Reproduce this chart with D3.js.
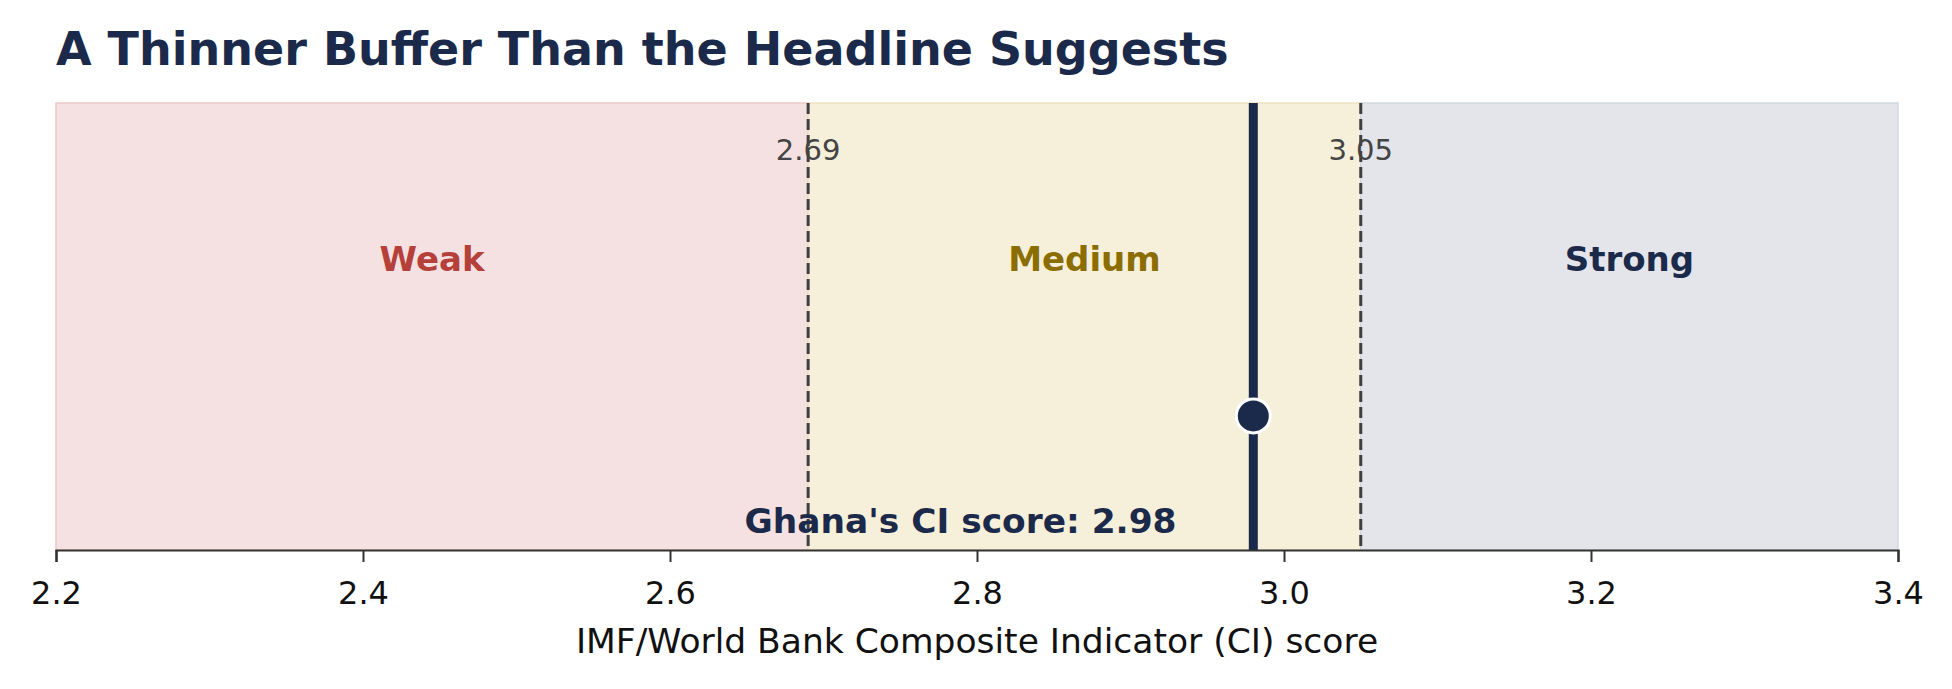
<!DOCTYPE html>
<html>
<head>
<meta charset="utf-8">
<script src="https://cdn.jsdelivr.net/npm/d3@7"></script>
<style>
  html, body { margin: 0; padding: 0; background: #ffffff; }
  svg { display: block; font-family: "DejaVu Sans", sans-serif; }
</style>
</head>
<body>
<svg id="chart" width="1952" height="689"></svg>
<script>
// ---- data ----
const titleText = "A Thinner Buffer Than the Headline Suggests";
const xLabel = "IMF/World Bank Composite Indicator (CI) score";
const zoneNames = ["Weak", "Medium", "Strong"];
const zoneStarts = [2.2, 2.69, 3.05];
const zoneEnds = [2.69, 3.05, 3.4];
const thresholds = [2.69, 3.05];
const thresholdLabels = ["2.69", "3.05"];
const ghanaScore = 2.98;
const scoreLabel = "Ghana's CI score: 2.98";
const xTicks = [2.2, 2.4, 2.6, 2.8, 3.0, 3.2, 3.4];
const xDomain = [2.2, 3.4];

// ---- styles ----
const zoneFill = ["#f5e1e1", "#f6efda", "#e3e5ea"];
const zoneEdge = ["#ecc9c7", "#efe2bf", "#d3d7df"];
const zoneText = ["#b5403a", "#8b6d00", "#1b2a4a"];
const navy = "#1b2a4a";

const svg = d3.select("#chart");
const W = 1952, H = 689;
const m = { left: 56, right: 1952 - 1898, top: 103, bottom: 689 - 550 };

const x = d3.scaleLinear().domain(xDomain).range([m.left, W - m.right]);
const y = d3.scaleLinear().domain([0, 1]).range([H - m.bottom, m.top]);

// title
svg.append("text")
  .attr("x", 56).attr("y", 65)
  .attr("font-size", 46).attr("font-weight", "bold")
  .attr("fill", navy)
  .text(titleText);

// zones
const zones = zoneNames.map((n, i) => ({ name: n, s: zoneStarts[i], e: zoneEnds[i], i }));
svg.selectAll("rect.zone").data(zones).enter().append("rect")
  .attr("class", "zone")
  .attr("x", d => x(d.s))
  .attr("y", y(1))
  .attr("width", d => x(d.e) - x(d.s))
  .attr("height", y(0) - y(1))
  .attr("fill", d => zoneFill[d.i])
  .attr("stroke", d => zoneEdge[d.i])
  .attr("stroke-width", 1.5);

// zone labels
svg.selectAll("text.zlab").data(zones).enter().append("text")
  .attr("class", "zlab")
  .attr("x", d => x((d.s + d.e) / 2))
  .attr("y", y(0.65))
  .attr("dy", "0.35em")
  .attr("text-anchor", "middle")
  .attr("font-size", 34).attr("font-weight", "bold")
  .attr("fill", d => zoneText[d.i])
  .text(d => d.name);

// threshold dashed lines
svg.selectAll("line.thr").data(thresholds).enter().append("line")
  .attr("class", "thr")
  .attr("x1", d => x(d)).attr("x2", d => x(d))
  .attr("y1", y(1)).attr("y2", y(0))
  .attr("stroke", "#3f3f3f")
  .attr("stroke-width", 3)
  .attr("stroke-dasharray", "11,5");

// threshold labels
svg.selectAll("text.thrlab").data(thresholds).enter().append("text")
  .attr("class", "thrlab")
  .attr("x", d => x(d))
  .attr("y", 160)
  .attr("text-anchor", "middle")
  .attr("font-size", 29)
  .attr("fill", "#444444")
  .text((d, i) => thresholdLabels[i]);

// score line
svg.append("line")
  .attr("x1", x(ghanaScore)).attr("x2", x(ghanaScore))
  .attr("y1", y(1)).attr("y2", y(0))
  .attr("stroke", navy).attr("stroke-width", 9);

// score dot
svg.append("circle")
  .attr("cx", x(ghanaScore)).attr("cy", y(0.3))
  .attr("r", 17)
  .attr("fill", navy)
  .attr("stroke", "#ffffff").attr("stroke-width", 3);

// score label
svg.append("text")
  .attr("x", x(ghanaScore - 0.05))
  .attr("y", 533)
  .attr("text-anchor", "end")
  .attr("font-size", 34.4).attr("font-weight", "bold")
  .attr("fill", navy)
  .text(scoreLabel);

// x axis
const axis = d3.axisBottom(x).tickValues(xTicks).tickFormat(d3.format(".1f")).tickSize(12).tickPadding(19);
const gx = svg.append("g").attr("transform", `translate(0,${y(0)})`).call(axis);
gx.select(".domain").attr("stroke", "#333333").attr("stroke-width", 2.2);
gx.selectAll(".tick line").attr("stroke", "#333333").attr("stroke-width", 2);
gx.selectAll(".tick text")
  .attr("font-size", 32)
  .attr("font-family", "DejaVu Sans, sans-serif")
  .attr("fill", "#111111");

// x label
svg.append("text")
  .attr("x", (x(xDomain[0]) + x(xDomain[1])) / 2)
  .attr("y", 653)
  .attr("text-anchor", "middle")
  .attr("font-size", 34.5)
  .attr("fill", "#111111")
  .text(xLabel);
</script>
</body>
</html>
